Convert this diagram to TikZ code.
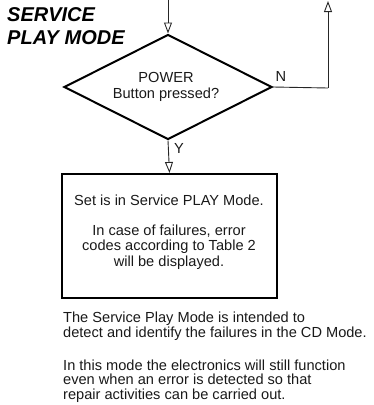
\documentclass[tikz,border=0pt]{standalone}
\usepackage{fontspec}
\setmainfont{Liberation Sans}
\usetikzlibrary{arrows.meta,shapes.geometric}
\begin{document}
\begin{tikzpicture}[x=1pt,y=-1pt,
  conn/.style={line width=0.9pt,draw=black!85,-{Triangle[open,length=11pt,width=8pt,line width=0.9pt]}},
  plainline/.style={line width=0.9pt,draw=black!85},
  txt/.style={font=\fontsize{14.6}{15.5}\selectfont,inner sep=0pt,text=black!90},
  ptxt/.style={font=\fontsize{14.6}{14.5}\selectfont,inner sep=0pt,text=black!90,anchor=west,align=left},
  title/.style={font=\fontsize{20}{22}\selectfont\bfseries\itshape,inner sep=0pt,anchor=west},
  decision/.style={diamond,draw,line width=2pt,aspect=2,minimum width=208pt,minimum height=105pt,inner sep=0pt},
  stepbox/.style={rectangle,draw,line width=2pt,minimum width=215pt,minimum height=124pt,inner sep=0pt}]
\useasboundingbox (0,0) rectangle (374,405);
\node[title] (t1) at (7,15) {SERVICE};
\node[title] (t2) at (7,38) {PLAY MODE};
\node[decision] (dia) at (168,87) {};
\node[txt] (q1) at (166,77) {POWER};
\node[txt] (q2) at (166,95) {Button pressed?};
\node[stepbox] (box) at (169.5,236) {};
\node[txt] (b1) at (169,200) {Set is in Service PLAY Mode.};
\node[txt,align=center] (b2) at (169,247) {In case of failures, error\\codes according to Table 2\\will be displayed.};
\coordinate (intop) at (168,0);
\coordinate (outtop) at (328,1);
\coordinate (corner) at (328,88);
\draw[conn] (intop) -- (dia.north);
\draw[plainline] (dia.east) -- (corner);
\draw[conn] (corner) -- (outtop);
\draw[conn] (dia.south) -- (box.north);
\node[txt] (nl) at (281,76) {N};
\node[txt] (yl) at (179,148) {Y};
\node[ptxt] (p1) at (63,326) {The Service Play Mode is intended to\\detect and identify the failures in the CD Mode.};
\node[ptxt] (p2) at (63,381) {In this mode the electronics will still function\\even when an error is detected so that\\repair activities can be carried out.};
\end{tikzpicture}
\end{document}
